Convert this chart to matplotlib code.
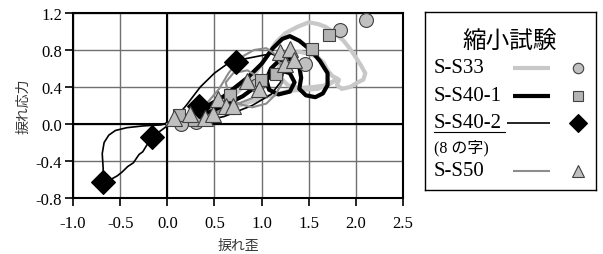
import matplotlib
matplotlib.use("Agg")
import matplotlib.pyplot as plt

# ---- data ----
series_names = ["S-S33", "S-S40-1", "S-S40-2", "S-S50"]

# hysteresis paths
s33_x = [0.0, 0.2, 0.45, 0.7, 0.9, 1.05, 1.15, 1.25, 1.38, 1.5, 1.6, 1.68, 1.78, 1.87, 1.94,
         2.0, 2.05, 2.1, 2.08, 2.02, 1.94, 1.85, 1.8, 1.82, 1.75, 1.7, 1.66, 1.6, 1.5, 1.4,
         1.3, 1.22, 1.18, 1.2, 1.28, 1.4, 1.55, 1.7, 1.78, 1.6, 1.3, 1.0, 0.7, 0.4, 0.1]
s33_y = [0.0, 0.05, 0.15, 0.3, 0.5, 0.72, 0.88, 0.98, 1.05, 1.1, 1.08, 1.05, 0.98, 0.9, 0.81,
         0.72, 0.64, 0.55, 0.48, 0.45, 0.4, 0.38, 0.42, 0.48, 0.52, 0.58, 0.66, 0.72, 0.76, 0.78,
         0.76, 0.7, 0.6, 0.5, 0.42, 0.39, 0.4, 0.42, 0.47, 0.38, 0.36, 0.28, 0.18, 0.08, 0.0]

s40_1_x = [0.0, 0.3, 0.6, 0.85, 1.0, 1.12, 1.22, 1.3, 1.4, 1.52, 1.62, 1.7, 1.7, 1.65, 1.57,
           1.47, 1.4, 1.42, 1.4, 1.32, 1.2, 1.1, 1.05, 1.08, 1.18, 1.3, 1.35, 1.3, 1.2, 1.0,
           0.8, 0.5, 0.2]
s40_1_y = [0.0, 0.12, 0.3, 0.5, 0.65, 0.82, 0.92, 0.95, 0.9, 0.8, 0.68, 0.55, 0.42, 0.33, 0.29,
           0.31, 0.38, 0.5, 0.62, 0.7, 0.7, 0.6, 0.48, 0.37, 0.32, 0.35, 0.45, 0.55, 0.58, 0.45,
           0.3, 0.15, 0.03]

s40_2_x = [-0.68, -0.68, -0.69, -0.67, -0.62, -0.55, -0.43, -0.25, -0.07, 0.05, 0.2, 0.35, 0.5,
           0.65, 0.8, 0.95, 1.1, 1.2, 1.25, 1.2, 1.1, 0.9, 0.6, 0.3, 0.0, -0.08, -0.12, -0.2,
           -0.26, -0.3, -0.36, -0.42, -0.48, -0.53, -0.6, -0.68]
s40_2_y = [-0.63, -0.48, -0.32, -0.2, -0.12, -0.07, -0.04, -0.02, -0.01, 0.02, 0.2, 0.4, 0.55,
           0.66, 0.7, 0.73, 0.76, 0.72, 0.6, 0.45, 0.32, 0.2, 0.08, 0.02, -0.02, -0.08, -0.14,
           -0.2, -0.3, -0.33, -0.42, -0.46, -0.52, -0.56, -0.6, -0.63]

s50_x = [0.0, 0.2, 0.4, 0.55, 0.65, 0.78, 0.92, 1.05, 1.15, 1.22, 1.22, 1.15, 1.05, 0.9, 0.75,
         0.65, 0.62, 0.7, 0.85, 0.98, 1.0, 0.9, 0.7, 0.45, 0.2, 0.0]
s50_y = [0.0, 0.08, 0.2, 0.38, 0.55, 0.72, 0.8, 0.82, 0.75, 0.6, 0.45, 0.32, 0.22, 0.18, 0.22,
         0.32, 0.45, 0.55, 0.58, 0.5, 0.38, 0.28, 0.2, 0.1, 0.02, 0.0]

# marker points
s33_mx = [0.15, 0.30, 0.95, 1.46, 1.83, 2.11]
s33_my = [0.00, 0.02, 0.42, 0.65, 1.02, 1.12]
s40_1_mx = [0.12, 0.28, 0.67, 0.99, 1.15, 1.53, 1.72]
s40_1_my = [0.10, 0.04, 0.31, 0.48, 0.54, 0.81, 0.96]
s40_2_mx = [-0.68, -0.16, 0.34, 0.73]
s40_2_my = [-0.63, -0.14, 0.19, 0.67]
s50_mx = [0.07, 0.24, 0.40, 0.49, 0.54, 0.62, 0.70, 0.85, 0.97, 1.20, 1.25, 1.30, 1.34]
s50_my = [0.07, 0.11, 0.07, 0.11, 0.27, 0.20, 0.20, 0.47, 0.38, 0.78, 0.65, 0.81, 0.69]

xticks = [-1.0, -0.5, 0.0, 0.5, 1.0, 1.5, 2.0, 2.5]
yticks = [-0.8, -0.4, 0.0, 0.4, 0.8, 1.2]

# ---- styles ----
serif = ["Liberation Serif", "Noto Sans CJK JP"]
jp = ["Noto Sans CJK JP", "DejaVu Sans"]
line_styles = {
    "S-S33": dict(color="#c8c8c8", lw=3.0),
    "S-S40-1": dict(color="black", lw=3.0),
    "S-S40-2": dict(color="black", lw=1.2),
    "S-S50": dict(color="#8c8c8c", lw=1.5),
}
marker_styles = {
    "S-S33": dict(marker="o", ms=10, mfc="#c0c0c0", mec="#404040", mew=0.8),
    "S-S40-1": dict(marker="s", ms=9, mfc="#b4b4b4", mec="#404040", mew=0.8),
    "S-S40-2": dict(marker="D", ms=12, mfc="black", mec="black", mew=0.8),
    "S-S50": dict(marker="^", ms=11, mfc="#c0c0c0", mec="#404040", mew=0.8),
}

fig = plt.figure(figsize=(6.03, 2.55), dpi=100)
ax = fig.add_axes([73 / 603, 1 - 199 / 255, 330 / 603, 185 / 255])

paths = {
    "S-S33": (s33_x, s33_y), "S-S40-1": (s40_1_x, s40_1_y),
    "S-S40-2": (s40_2_x, s40_2_y), "S-S50": (s50_x, s50_y),
}
marks = {
    "S-S33": (s33_mx, s33_my), "S-S40-1": (s40_1_mx, s40_1_my),
    "S-S40-2": (s40_2_mx, s40_2_my), "S-S50": (s50_mx, s50_my),
}

for name in series_names:
    px, py = paths[name]
    ax.plot(px, py, zorder=3, solid_joinstyle="round", **line_styles[name])
for name in series_names:
    mx, my = marks[name]
    ax.plot(mx, my, ls="none", zorder=4, **marker_styles[name])

ax.set_xlim(-1.0, 2.5)
ax.set_ylim(-0.8, 1.2)
ax.set_xticks(xticks)
ax.set_yticks(yticks)
ax.set_xticklabels([f"{t:.1f}" for t in xticks], family=serif, fontsize=12)
ax.set_yticklabels([f"{t:.1f}" for t in yticks], family=serif, fontsize=12)
ax.tick_params(direction="out", length=6, width=1.2)
ax.tick_params(axis="x", pad=6)
ax.tick_params(axis="y", pad=2)
ax.grid(True, color="#707070", lw=1.0, zorder=0)
ax.axhline(0, color="black", lw=1.5, zorder=1)
ax.axvline(0, color="black", lw=1.5, zorder=1)
for sp in ax.spines.values():
    sp.set_linewidth(1.5)
ax.set_axisbelow(True)

ax.set_xlabel("捩れ歪", family=jp, fontsize=10, color="#333333", labelpad=5)
ax.set_ylabel("捩れ応力", family=jp, fontsize=10, color="#333333", labelpad=4)

# ---- custom legend box (pixel coordinates inside its own axes) ----
lg = fig.add_axes([425 / 603, 1 - 191 / 255, 171 / 603, 178 / 255])
lg.set_xlim(425, 596)
lg.set_ylim(191, 13)
lg.set_xticks([])
lg.set_yticks([])
for sp in lg.spines.values():
    sp.set_linewidth(1.0)

lg.text(510, 42, "縮小試験", family=serif, fontsize=17, ha="center", va="center")
rows = [("S-S33", 69), ("S-S40-1", 97), ("S-S40-2", 124), ("S-S50", 172)]
for name, yy in rows:
    lg.text(434, yy, name, family=serif, fontsize=15, ha="left", va="center")
    x0 = 507 if name == "S-S40-2" else 513
    lg.plot([x0, 550], [yy, yy], solid_capstyle="butt", **line_styles[name])
    ms = dict(marker_styles[name])
    ms["ms"] = ms["ms"] * 0.75
    lg.plot([578], [yy], ls="none", **ms)
lg.plot([434, 505], [133, 133], color="black", lw=0.8)
lg.text(434, 148, "(8 の字)", family=serif, fontsize=11.5, ha="left", va="center")

fig.savefig("out.png", dpi=100)
